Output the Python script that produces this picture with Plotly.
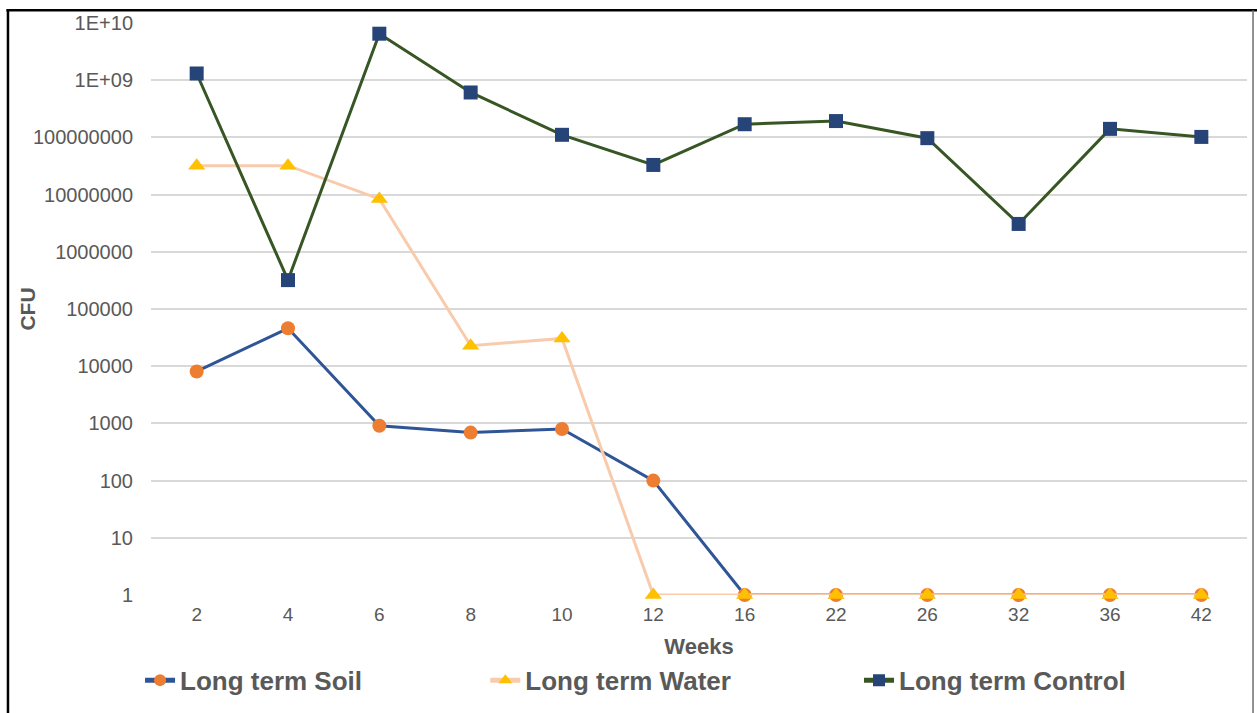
import plotly.graph_objects as go

# Sampling weeks (categorical axis)
weeks = ["2", "4", "6", "8", "10", "12", "16", "22", "26", "32", "36", "42"]

# CFU counts per series
soil = [8100, 46000, 910, 690, 800, 100, 1, 1, 1, 1, 1, 1]
water = [32000000, 32000000, 8400000, 22800, 30600, 1, 1, 1, 1, 1, 1, 1]
control = [1310000000, 320000, 6500000000, 610000000, 111000000, 33000000,
           170000000, 193000000, 97000000, 3070000, 141000000, 102000000]

# Log axis tick labels
y_tickvals = [1, 10, 100, 1000, 10000, 100000, 1000000, 10000000,
              100000000, 1000000000, 10000000000]
y_ticktext = ["1", "10", "100", "1000", "10000", "100000", "1000000",
              "10000000", "100000000", "1E+09", "1E+10"]

FONT = "Liberation Sans, Arial, sans-serif"
GREY = "#595959"

fig = go.Figure()

fig.add_trace(go.Scatter(
    x=weeks, y=soil, name="Long term Soil", mode="lines+markers",
    line=dict(color="#2F5597", width=3),
    marker=dict(symbol="circle", size=14, color="#ED7D31"),
    cliponaxis=False, legend="legend",
))
fig.add_trace(go.Scatter(
    x=weeks, y=water, name="Long term Water", mode="lines+markers",
    line=dict(color="#F8CBAD", width=3),
    marker=dict(symbol="triangle-up", size=15, color="#FFC000"),
    cliponaxis=False, legend="legend2",
))
fig.add_trace(go.Scatter(
    x=weeks, y=control, name="Long term Control", mode="lines+markers",
    line=dict(color="#375623", width=3),
    marker=dict(symbol="square", size=14, color="#264478"),
    cliponaxis=False, legend="legend3",
))

legend_common = dict(
    orientation="h", yanchor="middle", y=-0.147, xanchor="left",
    font=dict(family=FONT, size=26, color=GREY, weight="bold"),
    bgcolor="rgba(0,0,0,0)", borderwidth=0, itemsizing="constant",
)

fig.update_layout(
    width=1257, height=713,
    margin=dict(l=151, r=10, t=23, b=117),
    paper_bgcolor="white", plot_bgcolor="white",
    font=dict(family=FONT, color=GREY),
    showlegend=True,
    legend=dict(x=-0.01, **legend_common),
    legend2=dict(x=0.305, **legend_common),
    legend3=dict(x=0.646, **legend_common),
    xaxis=dict(
        type="category", categoryorder="array", categoryarray=weeks,
        range=[-0.5, len(weeks) - 0.5],
        showgrid=False, showline=False, zeroline=False, ticks="",
        tickfont=dict(family=FONT, size=19, color=GREY),
        ticklabelstandoff=6,
        title=dict(text="Weeks", standoff=14,
                   font=dict(family=FONT, size=22, color=GREY, weight="bold")),
    ),
    yaxis=dict(
        type="log", range=[0, 10],
        tickmode="array", tickvals=y_tickvals, ticktext=y_ticktext,
        showgrid=True, gridcolor="#D9D9D9", gridwidth=1.5,
        showline=False, zeroline=False, ticks="",
        tickfont=dict(family=FONT, size=20, color=GREY),
        ticklabelstandoff=17,
    ),
    annotations=[
        dict(text="CFU", xref="paper", yref="paper", x=-0.1135, y=0.5,
             xanchor="center", yanchor="middle", textangle=-90, showarrow=False,
             font=dict(family=FONT, size=21, color=GREY, weight="bold")),
    ],
    shapes=[
        dict(type="line", xref="paper", yref="paper",
             x0=-0.1305, x1=-0.1305, y0=-0.25, y1=1.0222,
             line=dict(color="black", width=2.5)),
        dict(type="line", xref="paper", yref="paper",
             x0=-0.132, x1=1.0095, y0=1.0222, y1=1.0222,
             line=dict(color="black", width=2.5)),
        dict(type="line", xref="paper", yref="paper",
             x0=1.0055, x1=1.0055, y0=-0.25, y1=1.0222,
             line=dict(color="#6E6E6E", width=1.5)),
    ],
)

fig.write_html("out.html")
